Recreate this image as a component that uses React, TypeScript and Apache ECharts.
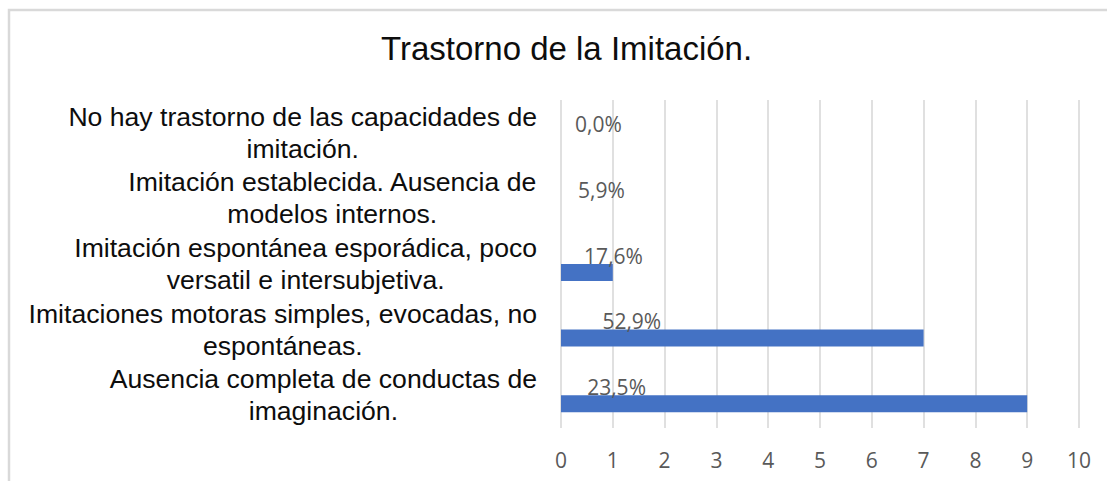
import React, { useEffect, useRef } from "react";
import * as echarts from "echarts";

const chartTitle = "Trastorno de la Imitación.";
const categories = [
  "No hay trastorno de las capacidades de\nimitación.",
  "Imitación establecida. Ausencia de\nmodelos internos.",
  "Imitación espontánea esporádica, poco\nversatil e intersubjetiva.",
  "Imitaciones motoras simples, evocadas, no\nespontáneas.",
  "Ausencia completa de conductas de\nimaginación.",
];
const counts = [0, 0, 1, 7, 9];
const percents = [0.0, 5.9, 17.6, 52.9, 23.5];
const xTicks = { min: 0, max: 10, interval: 1 };

export default function App() {
  const ref = useRef<HTMLDivElement>(null);
  useEffect(() => {
    if (!ref.current) return;
    const chart = echarts.init(ref.current, null, { renderer: "svg" });
    chart.setOption({
      animation: false,
      backgroundColor: "#ffffff",
      title: {
        text: chartTitle,
        left: 376,
        top: 27,
        textStyle: {
          fontFamily: "Liberation Sans",
          fontSize: 33,
          fontWeight: "normal",
          color: "#0d0d0d",
        },
      },
      graphic: [
        {
          type: "rect",
          shape: { x: 9, y: 10, width: 1300, height: 700 },
          style: { fill: "none", stroke: "#d9d9d9", lineWidth: 2.5 },
          silent: true,
        },
      ],
      grid: { left: 561, right: 28, top: 100, bottom: 53, containLabel: false },
      xAxis: {
        type: "value",
        min: xTicks.min,
        max: xTicks.max,
        interval: xTicks.interval,
        axisLine: { show: false },
        axisTick: { show: false },
        splitLine: { show: true, lineStyle: { color: "#d9d9d9", width: 1.6 } },
        axisLabel: {
          color: "#595959",
          fontSize: 21,
          fontFamily: "Open Sans",
          margin: 21,
        },
      },
      yAxis: {
        type: "category",
        inverse: true,
        data: categories,
        axisLine: { show: false },
        axisTick: { show: false },
        splitLine: { show: false },
        axisLabel: {
          margin: 24,
          color: "#0d0d0d",
          fontFamily: "Liberation Sans",
          fontSize: 26.6,
          lineHeight: 32,
          formatter: (v: string) =>
            v
              .split("\n")
              .map((l) => `{c|${l}}`)
              .join("\n"),
          rich: {
            c: {
              align: "center",
              color: "#0d0d0d",
              fontFamily: "Liberation Sans",
              fontSize: 26.6,
              lineHeight: 32,
            },
          },
        },
      },
      series: [
        {
          name: "Porcentaje",
          type: "bar",
          data: percents.map((p) => p / 100),
          barWidth: 17,
          barGap: "0%",
          itemStyle: { color: "rgba(0,0,0,0)" },
          label: {
            show: true,
            position: "right",
            distance: 14,
            color: "#595959",
            fontSize: 21,
            fontFamily: "Open Sans",
            formatter: (p: any) => percents[p.dataIndex].toFixed(1).replace(".", ",") + "%",
          },
          silent: true,
        },
        {
          name: "Frecuencia",
          type: "bar",
          data: counts,
          barWidth: 17,
          barGap: "0%",
          itemStyle: { color: "#4472c4" },
        },
      ],
    });
    return () => chart.dispose();
  }, []);
  return (
    <div
      ref={ref}
      style={{ position: "absolute", left: 0, top: 0, width: 1107, height: 481 }}
    />
  );
}
